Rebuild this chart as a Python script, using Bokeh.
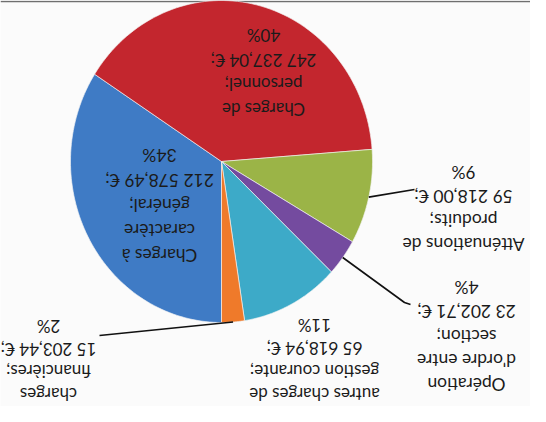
import numpy as np
from bokeh.plotting import figure
from bokeh.models import Range1d, ColumnDataSource
from bokeh.core.properties import value
from bokeh.embed import file_html
from bokeh.resources import INLINE

# ---- data ----
label_names = [
    ["Charges à", "caractère", "général;"],
    ["Charges de", "personnel;"],
    ["Atténuations de", "produits;"],
    ["Opération", "d'ordre entre", "section;"],
    ["autres charges de", "gestion courante;"],
    ["charges", "financières;"],
]
amounts = [212578.49, 247237.04, 59218.00, 23202.71, 65618.94, 15203.44]
percent_labels = ["34%", "40%", "9%", "4%", "11%", "2%"]
colors = ["#3F7BC5", "#C3262E", "#9BB447", "#744B9F", "#3DAAC8", "#EF7A2A"]

# ---- layout (pixel-like coordinates, y downward) ----
W, H = 530, 406
cx, cy, rx, ry = 229, 169, 151, 161
start_deg = 270.0
# (centre x, y of first reading line, line spacing, font px) -- text is upside down
label_pos = [(167, 263, 25.0, 17.5), (271, 117, 24.7, 17.0), (471, 252, 24.0, 17.5),
             (474, 392, 24.2, 17.5), (322, 402, 23.0, 17.0), (56, 402, 22.7, 17.0)]
leader_ends = {2: [(422, 197)], 3: [(412, 310), (418, 312)], 5: [(107, 343)]}

def fr(v):
    s = f"{v:,.2f}"
    return s.replace(",", " ").replace(".", ",") + " €;"

p = figure(width=W, height=H, output_backend="svg", toolbar_location=None,
           x_range=Range1d(8, 8 + W), y_range=Range1d(8 + H, 8),
           min_border=0, background_fill_color="#fbfbfb", border_fill_color="#fbfbfb",
           outline_line_color=None)
p.axis.visible = False
p.grid.visible = False

# faint top rule of the page
p.line([8, 8 + W], [9, 9], line_color="#6f6f6f", line_width=1.5)

total = float(sum(amounts))
xs, ys, mids = [], [], []
a0 = start_deg
for v in amounts:
    sweep = v / total * 360.0
    a1 = a0 - sweep
    th = np.radians(np.linspace(a0, a1, 80))
    xs.append([cx] + list(cx + rx * np.cos(th)))
    ys.append([cy] + list(cy - ry * np.sin(th)))
    mids.append((a0 + a1) / 2.0)
    a0 = a1

p.patches(xs, ys, fill_color=colors, line_color="#f4f4f4", line_width=0.8, line_alpha=0.8)

# leader lines
for i, pts in leader_ends.items():
    m = np.radians(mids[i])
    px, py = cx + rx * np.cos(m), cy - ry * np.sin(m)
    lx = [px] + [q[0] for q in pts]
    ly = [py] + [q[1] for q in pts]
    p.line(lx, ly, line_color="#111111", line_width=1.6)

tx, ty, tt, tf = [], [], [], []
for names, amt, pc, (x0, y0, sp, fs) in zip(label_names, amounts, percent_labels, label_pos):
    lines = names + [fr(amt), pc]
    for k, s in enumerate(lines):
        tx.append(x0)
        ty.append(y0 - k * sp)
        tt.append(s)
        tf.append(f"{fs}px")
src = ColumnDataSource(dict(x=tx, y=ty, t=tt, fs=tf))
p.text("x", "y", text="t", source=src, angle=np.pi, text_align="center", text_baseline="middle",
       text_font=value("Lato"), text_font_size="fs", text_color="#1b1b1b")

open("out.html", "w").write(file_html(p, INLINE))
